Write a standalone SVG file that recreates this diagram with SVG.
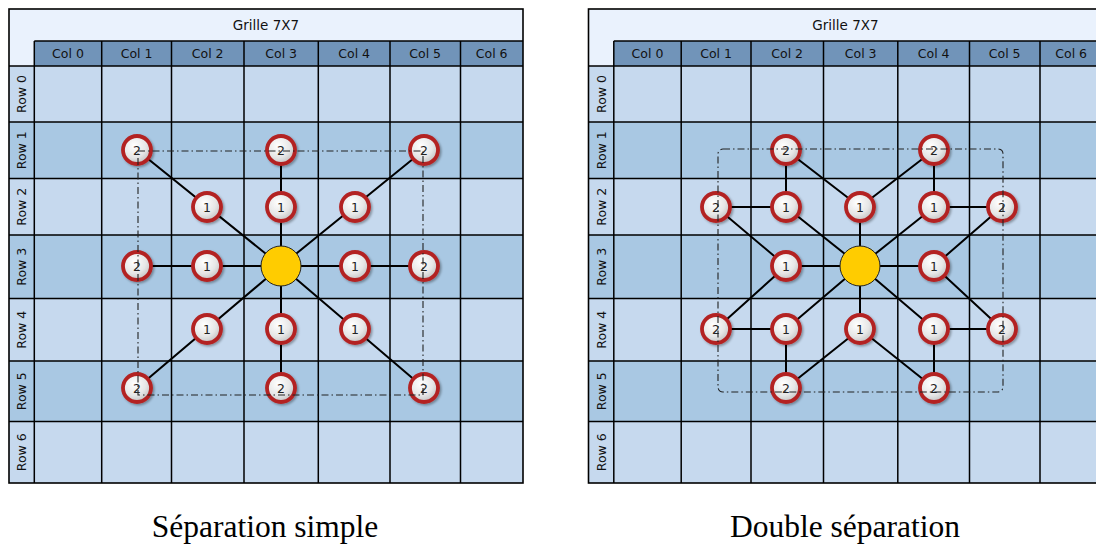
<svg xmlns="http://www.w3.org/2000/svg" width="1096" height="547" viewBox="0 0 1096 547">
<defs>
<radialGradient id="nodeFill" cx="0.4" cy="0.35" r="0.7">
<stop offset="0" stop-color="#ffffff"/>
<stop offset="0.6" stop-color="#e6e6e6"/>
<stop offset="1" stop-color="#bdbdbd"/>
</radialGradient>
<filter id="shadow" x="-40%" y="-40%" width="180%" height="180%">
<feDropShadow dx="1.5" dy="1.5" stdDeviation="1.2" flood-color="#000" flood-opacity="0.35"/>
</filter>
<g id="grid">
<rect x="9" y="9" width="514" height="474" fill="#eaf2fd"/>
<rect x="34.3" y="41" width="488.7" height="25" fill="#7194b9"/>
<rect x="9" y="66" width="514" height="56" class="lt"/>
<rect x="9" y="122" width="514" height="56.5" class="dk"/>
<rect x="9" y="178.5" width="514" height="56.5" class="lt"/>
<rect x="9" y="235" width="514" height="63.5" class="dk"/>
<rect x="9" y="298.5" width="514" height="62.5" class="lt"/>
<rect x="9" y="361" width="514" height="60.5" class="dk"/>
<rect x="9" y="421.5" width="514" height="61.5" class="lt"/>
<path class="gl" d="M34.3 41V483M101.7 41V483M171.5 41V483M244 41V483M318.3 41V483M390 41V483M460.5 41V483M34.3 41H523M9 66H523M9 122H523M9 178.5H523M9 235H523M9 298.5H523M9 361H523M9 421.5H523"/>
<rect x="9" y="9" width="514" height="474" fill="none" stroke="#000" stroke-width="1.6"/>
<text class="ttl" x="266" y="25">Grille 7X7</text>
<text class="hd" x="68" y="53.5">Col 0</text>
<text class="hd" x="136.6" y="53.5">Col 1</text>
<text class="hd" x="207.7" y="53.5">Col 2</text>
<text class="hd" x="281.2" y="53.5">Col 3</text>
<text class="hd" x="354.2" y="53.5">Col 4</text>
<text class="hd" x="425.2" y="53.5">Col 5</text>
<text class="hd" x="491.7" y="53.5">Col 6</text>
<text class="hd" transform="translate(21.5,94) rotate(-90)">Row 0</text>
<text class="hd" transform="translate(21.5,150.2) rotate(-90)">Row 1</text>
<text class="hd" transform="translate(21.5,206.7) rotate(-90)">Row 2</text>
<text class="hd" transform="translate(21.5,266.7) rotate(-90)">Row 3</text>
<text class="hd" transform="translate(21.5,329.7) rotate(-90)">Row 4</text>
<text class="hd" transform="translate(21.5,391.2) rotate(-90)">Row 5</text>
<text class="hd" transform="translate(21.5,452.2) rotate(-90)">Row 6</text>
</g>
</defs>
<style>
.lt{fill:#c6d9ee}
.dk{fill:#a9c8e3}
.gl{stroke:#000;stroke-width:1.5;fill:none}
.ttl{font-family:"DejaVu Sans",sans-serif;font-size:13.5px;fill:#111;text-anchor:middle;dominant-baseline:central}
.hd{font-family:"DejaVu Sans",sans-serif;font-size:12.5px;fill:#111;text-anchor:middle;dominant-baseline:central}
.edge{stroke:#000;stroke-width:2;fill:none}
.ring{fill:url(#nodeFill);stroke:#b32222;stroke-width:3.8;filter:url(#shadow)}
.num{font-family:"DejaVu Sans",sans-serif;font-size:12.5px;fill:#222;text-anchor:middle;dominant-baseline:central}
.ctr{fill:#ffcc00;stroke:#222;stroke-width:1}
.sep{fill:none;stroke:#222;stroke-width:1.1;stroke-dasharray:7,3,1.5,3}
.cap{font-family:"Liberation Serif","Times New Roman",serif;font-size:31.5px;fill:#000;text-anchor:middle}
</style>

<g id="grid-left"><use href="#grid"/></g>
<g id="grid-right"><use href="#grid" transform="translate(579.5,0)"/></g>

<g id="connectors-left">
<path class="edge" d="M281 266L137 150M281 266L281 150M281 266L424 150M281 266L137 266M281 266L424 266M281 266L137 388M281 266L281 388M281 266L424 388"/>
</g>
<g id="connectors-right">
<path class="edge" d="M860 266L786 207M860 266L860 207M860 266L934 207M860 266L786 266M860 266L934 266M860 266L786 329M860 266L860 329M860 266L934 329"/>
<path class="edge" d="M786 150L786 207M786 150L860 207M934 150L934 207M934 150L860 207M716 207L786 207M716 207L786 266M1002 207L934 207M1002 207L934 266M716 329L786 329M716 329L786 266M1002 329L934 329M1002 329L934 266M786 388L786 329M786 388L860 329M934 388L934 329M934 388L860 329"/>
</g>

<g id="L-center"><circle class="ctr" cx="281" cy="266" r="20"/></g>
<g id="L-r1c1"><circle class="ring" cx="137" cy="150" r="14"/><text class="num" x="137" y="150">2</text></g>
<g id="L-r1c3"><circle class="ring" cx="281" cy="150" r="14"/><text class="num" x="281" y="150">2</text></g>
<g id="L-r1c5"><circle class="ring" cx="424" cy="150" r="14"/><text class="num" x="424" y="150">2</text></g>
<g id="L-r2c2"><circle class="ring" cx="207" cy="207" r="14"/><text class="num" x="207" y="207">1</text></g>
<g id="L-r2c3"><circle class="ring" cx="281" cy="207" r="14"/><text class="num" x="281" y="207">1</text></g>
<g id="L-r2c4"><circle class="ring" cx="355" cy="207" r="14"/><text class="num" x="355" y="207">1</text></g>
<g id="L-r3c1"><circle class="ring" cx="137" cy="266" r="14"/><text class="num" x="137" y="266">2</text></g>
<g id="L-r3c2"><circle class="ring" cx="207" cy="266" r="14"/><text class="num" x="207" y="266">1</text></g>
<g id="L-r3c4"><circle class="ring" cx="355" cy="266" r="14"/><text class="num" x="355" y="266">1</text></g>
<g id="L-r3c5"><circle class="ring" cx="424" cy="266" r="14"/><text class="num" x="424" y="266">2</text></g>
<g id="L-r4c2"><circle class="ring" cx="207" cy="329" r="14"/><text class="num" x="207" y="329">1</text></g>
<g id="L-r4c3"><circle class="ring" cx="281" cy="329" r="14"/><text class="num" x="281" y="329">1</text></g>
<g id="L-r4c4"><circle class="ring" cx="355" cy="329" r="14"/><text class="num" x="355" y="329">1</text></g>
<g id="L-r5c1"><circle class="ring" cx="137" cy="388" r="14"/><text class="num" x="137" y="388">2</text></g>
<g id="L-r5c3"><circle class="ring" cx="281" cy="388" r="14"/><text class="num" x="281" y="388">2</text></g>
<g id="L-r5c5"><circle class="ring" cx="424" cy="388" r="14"/><text class="num" x="424" y="388">2</text></g>

<g id="R-center"><circle class="ctr" cx="860" cy="266" r="20"/></g>
<g id="R-r1c2"><circle class="ring" cx="786" cy="150" r="14"/><text class="num" x="786" y="150">2</text></g>
<g id="R-r1c4"><circle class="ring" cx="934" cy="150" r="14"/><text class="num" x="934" y="150">2</text></g>
<g id="R-r2c1"><circle class="ring" cx="716" cy="207" r="14"/><text class="num" x="716" y="207">2</text></g>
<g id="R-r2c2"><circle class="ring" cx="786" cy="207" r="14"/><text class="num" x="786" y="207">1</text></g>
<g id="R-r2c3"><circle class="ring" cx="860" cy="207" r="14"/><text class="num" x="860" y="207">1</text></g>
<g id="R-r2c4"><circle class="ring" cx="934" cy="207" r="14"/><text class="num" x="934" y="207">1</text></g>
<g id="R-r2c5"><circle class="ring" cx="1002" cy="207" r="14"/><text class="num" x="1002" y="207">2</text></g>
<g id="R-r3c2"><circle class="ring" cx="786" cy="266" r="14"/><text class="num" x="786" y="266">1</text></g>
<g id="R-r3c4"><circle class="ring" cx="934" cy="266" r="14"/><text class="num" x="934" y="266">1</text></g>
<g id="R-r4c1"><circle class="ring" cx="716" cy="329" r="14"/><text class="num" x="716" y="329">2</text></g>
<g id="R-r4c2"><circle class="ring" cx="786" cy="329" r="14"/><text class="num" x="786" y="329">1</text></g>
<g id="R-r4c3"><circle class="ring" cx="860" cy="329" r="14"/><text class="num" x="860" y="329">1</text></g>
<g id="R-r4c4"><circle class="ring" cx="934" cy="329" r="14"/><text class="num" x="934" y="329">1</text></g>
<g id="R-r4c5"><circle class="ring" cx="1002" cy="329" r="14"/><text class="num" x="1002" y="329">2</text></g>
<g id="R-r5c2"><circle class="ring" cx="786" cy="388" r="14"/><text class="num" x="786" y="388">2</text></g>
<g id="R-r5c4"><circle class="ring" cx="934" cy="388" r="14"/><text class="num" x="934" y="388">2</text></g>

<g id="separation-left"><rect class="sep" x="138" y="151" width="285" height="244"/></g>
<g id="separation-right"><rect class="sep" x="718" y="149" width="285" height="243" rx="5"/></g>

<text class="cap" x="265" y="537">Séparation simple</text>
<text class="cap" x="845" y="537">Double séparation</text>
</svg>
